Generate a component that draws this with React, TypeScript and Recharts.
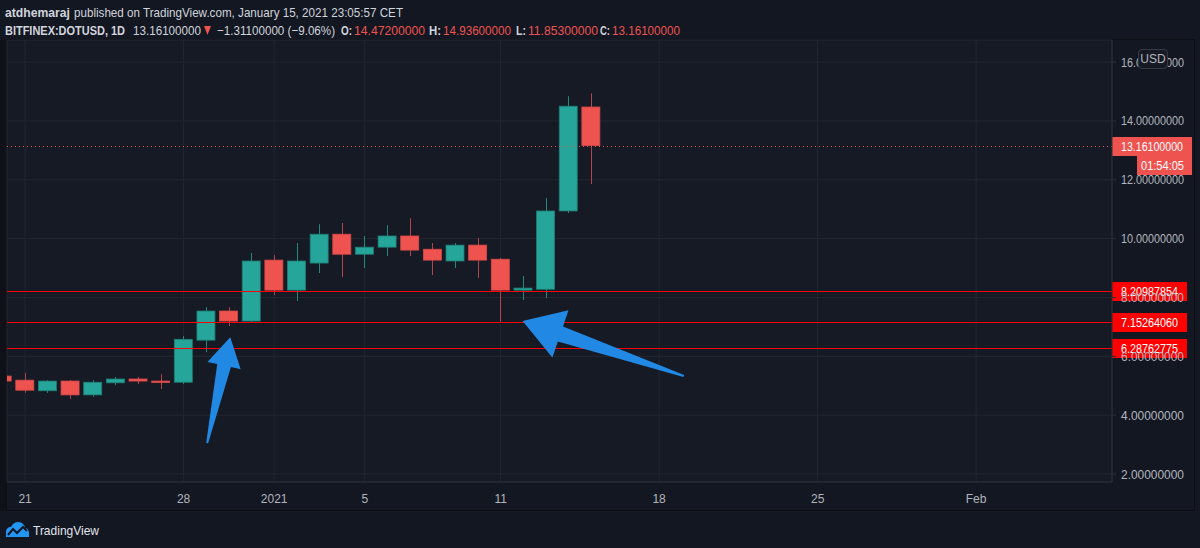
import React from 'react';
import { ComposedChart, Bar, XAxis, YAxis, CartesianGrid, ReferenceLine } from 'recharts';

// daily candles, BITFINEX:DOTUSD, Dec 20 2020 .. Jan 15 2021
const dayLabels = ['Dec 20', 'Dec 21', 'Dec 22', 'Dec 23', 'Dec 24', 'Dec 25', 'Dec 26', 'Dec 27', 'Dec 28', 'Dec 29', 'Dec 30', 'Dec 31', 'Jan 1', 'Jan 2', 'Jan 3', 'Jan 4', 'Jan 5', 'Jan 6', 'Jan 7', 'Jan 8', 'Jan 9', 'Jan 10', 'Jan 11', 'Jan 12', 'Jan 13', 'Jan 14', 'Jan 15'];
const opens = [5.33, 5.19, 4.83, 5.16, 4.69, 5.10, 5.23, 5.16, 5.12, 6.55, 7.54, 7.20, 9.27, 8.25, 9.17, 10.15, 9.47, 9.71, 10.09, 9.64, 9.24, 9.78, 9.30, 8.25, 8.28, 10.94, 14.472];
const highs = [5.38, 5.43, 5.19, 5.19, 5.19, 5.30, 5.30, 5.39, 6.69, 7.67, 7.67, 9.51, 9.44, 9.85, 10.49, 10.53, 10.09, 10.46, 10.70, 9.85, 9.85, 10.02, 9.34, 8.73, 11.38, 14.84, 14.936];
const lows = [5.12, 4.76, 4.76, 4.55, 4.63, 5.02, 5.06, 4.89, 5.06, 6.14, 7.03, 7.16, 8.08, 7.88, 8.83, 8.69, 9.00, 9.41, 9.41, 8.76, 9.00, 8.66, 7.15, 7.91, 7.98, 10.87, 11.853];
const closes = [5.16, 4.85, 5.16, 4.69, 5.12, 5.23, 5.16, 5.15, 6.58, 7.54, 7.20, 9.24, 8.25, 9.24, 10.15, 9.47, 9.71, 10.09, 9.61, 9.27, 9.78, 9.27, 8.25, 8.32, 10.94, 14.50, 13.161];

// x axis: day offset from Dec 21
const tickDays = [0, 7, 11, 15, 21, 28, 35, 42];
const tickNames = ['21', '28', '2021', '5', '11', '18', '25', 'Feb'];
const priceTicks = [2, 4, 6, 8, 10, 12, 14, 16];

const lastPrice = 13.161;
const countdown = '01:54:05';
const levels = [8.20987854, 7.1526406, 6.28762775];

// drawn arrows: [tail, tip] in (day, price)
const arrowUp = [{ x: 8.04, y: 3.05 }, { x: 9.06, y: 6.65 }];
const arrowLeft = [{ x: 29.09, y: 5.33 }, { x: 21.97, y: 7.2 }];

const UP = '#26a69a';
const DOWN = '#ef5350';
const FONT = "'Liberation Sans', Arial, sans-serif";
const TXT = '#d1d4dc';

// header pieces: text, x, width, bold, red
const headerLine1 = [
  ['atdhemaraj', 5, 65, true, false],
  ['published on TradingView.com, January 15, 2021 23:05:57 CET', 74, 329, false, false],
] as const;
const headerLine2 = [
  ['BITFINEX:DOTUSD, 1D', 5, 120, true, false],
  ['13.16100000', 133, 68, false, false],
  ['−1.31100000 (−9.06%)', 217, 118, false, false],
  ['O:', 341, 11, true, false],
  ['14.47200000', 354, 71, false, true],
  ['H:', 429, 12, true, false],
  ['14.93600000', 443, 68, false, true],
  ['L:', 516, 10, true, false],
  ['11.85300000', 528, 70, false, true],
  ['C:', 600, 10, true, false],
  ['13.16100000', 612, 68, false, true],
] as const;

const data = dayLabels.map((d, i) => ({
  day: i - 1,
  name: d,
  range: [lows[i], highs[i]],
  open: opens[i],
  high: highs[i],
  low: lows[i],
  close: closes[i],
}));

const Candle = (props: any) => {
  const { x, y, width, height } = props;
  const p = props.payload || props;
  const up = p.close >= p.open;
  const top = Math.min(y, y + height);
  const h = Math.abs(height);
  const py = (v: number) => top + ((p.high - v) / (p.high - p.low)) * h;
  const cx = Math.round(x + width / 2) + 0.5;
  const bTop = py(Math.max(p.open, p.close));
  const bBot = py(Math.min(p.open, p.close));
  return (
    <g>
      <line x1={cx} x2={cx} y1={top} y2={top + h} stroke={up ? '#22887f' : '#b0464c'} strokeWidth={1} />
      <rect x={x} y={bTop} width={width} height={Math.max(bBot - bTop, 1.5)} fill={up ? UP : DOWN} stroke={up ? '#1f7d74' : '#d84a48'} strokeWidth={0.8} />
    </g>
  );
};

const PriceTag = (props: any) => {
  const { viewBox, text, bg, w, tl, sub } = props;
  if (!viewBox) return null;
  const x = viewBox.x + viewBox.width;
  const y = Math.round(viewBox.y);
  return (
    <g>
      <rect x={x} y={y - 9} width={w} height={19} fill={bg} />
      <text x={x + 9} y={y + 0.5} dy="0.36em" fill="#ffffff" fontSize={13} fontFamily={FONT} textLength={tl} lengthAdjust="spacingAndGlyphs">{text}</text>
      {sub ? (
        <g>
          <rect x={x + 25} y={y + 10} width={w - 25} height={19} fill={bg} />
          <text x={x + 29} y={y + 19.5} dy="0.36em" fill="#ffffff" fontSize={13} fontFamily={FONT} textLength={43} lengthAdjust="spacingAndGlyphs">{sub}</text>
        </g>
      ) : null}
    </g>
  );
};

const crispLine = (props: any) => {
  const yy = Math.round(props.y1) + 0.5;
  return <line x1={props.x1} x2={props.x2} y1={yy} y2={yy} stroke={props.stroke} strokeWidth={1} strokeDasharray={props.strokeDasharray} />;
};

const YTick = (props: any) => {
  const { x, y, payload } = props;
  return (
    <text x={x} y={y} dy="0.36em" fill="#b2b5be" fontSize={12.5} fontFamily={FONT} textLength={63} lengthAdjust="spacingAndGlyphs">
      {Number(payload.value).toFixed(8)}
    </text>
  );
};

const arrowShape = (headLen: number, headHalf: number, shaftHalf: number) => (props: any) => {
  const { x1, y1, x2, y2 } = props;
  if ([x1, y1, x2, y2].some((v) => v == null || isNaN(v))) return <g />;
  const dx = x2 - x1;
  const dy = y2 - y1;
  const len = Math.hypot(dx, dy) || 1;
  const ux = dx / len;
  const uy = dy / len;
  const px = -uy;
  const py = ux;
  const bx = x2 - ux * headLen;
  const by = y2 - uy * headLen;
  const pts = [
    [x1 + px * 1, y1 + py * 1],
    [bx + px * shaftHalf, by + py * shaftHalf],
    [bx + px * headHalf, by + py * headHalf],
    [x2, y2],
    [bx - px * headHalf, by - py * headHalf],
    [bx - px * shaftHalf, by - py * shaftHalf],
    [x1 - px * 1, y1 - py * 1],
  ];
  return <polygon points={pts.map((q) => q.join(',')).join(' ')} fill="#2188e3" />;
};

const headerText = (row: readonly (readonly [string, number, number, boolean, boolean])[], y: number) =>
  row.map(([t, x, w, bold, red]) => (
    <text key={t + x} x={x} y={y} fill={red ? DOWN : TXT} fontSize={13} fontWeight={bold ? 'bold' : 'normal'} fontFamily={FONT} textLength={w} lengthAdjust="spacingAndGlyphs">
      {t}
    </text>
  ));

export default function App() {
  return (
    <div style={{ position: 'absolute', left: 0, top: 0, width: 1200, height: 548, background: '#131722', overflow: 'hidden', fontFamily: FONT }}>
      <svg style={{ position: 'absolute', left: 0, top: 0 }} width={1200} height={40}>
        {headerText(headerLine1, 16.5)}
        {headerText(headerLine2, 34.5)}
        <polygon points="204,26 211,26 207.5,35" fill={DOWN} />
      </svg>
      <div style={{ position: 'absolute', left: 0, top: 40, width: 7, height: 471, background: '#0f1118' }} />
      <div style={{ position: 'absolute', left: 6, top: 39, width: 1189, height: 472, border: '1px solid #0c0e14', boxSizing: 'border-box' }} />
      <div style={{ position: 'absolute', left: 0, top: 0 }}>
        <ComposedChart width={1200} height={548} data={data} margin={{ top: 40, right: 5, bottom: 37, left: 7 }}>
          <CartesianGrid stroke="#232733" fill="#161a25" />
          <XAxis
            type="number"
            dataKey="day"
            domain={[-0.8, 48]}
            allowDataOverflow
            ticks={tickDays}
            interval={0}
            tickFormatter={(v: number) => tickNames[tickDays.indexOf(v)] ?? ''}
            height={29}
            tickSize={6}
            tickMargin={6}
            tickLine={false}
            axisLine={{ stroke: '#2a2e39' }}
            tick={{ fill: '#b2b5be', fontSize: 12, fontFamily: FONT }}
          />
          <YAxis
            orientation="right"
            domain={[1.73, 16.75]}
            allowDataOverflow
            ticks={priceTicks}
            interval={0}
            width={83}
            tickSize={4}
            tickMargin={5}
            tickLine={{ stroke: '#2a2e39' }}
            axisLine={{ stroke: '#2a2e39' }}
            tick={<YTick />}
          />
          <Bar dataKey="range" barSize={18} shape={<Candle />} isAnimationActive={false} />
          <ReferenceLine
            y={lastPrice}
            stroke={DOWN}
            strokeDasharray="1 3"
            shape={crispLine}
            label={<PriceTag text={lastPrice.toFixed(8)} sub={countdown} bg={DOWN} w={80} tl={62} />}
          />
          {levels.map((v) => (
            <ReferenceLine key={v} y={v} stroke="#ff0000" shape={crispLine} label={<PriceTag text={v.toFixed(8)} bg="#ff0000" w={75} tl={57} />} />
          ))}
          <ReferenceLine segment={arrowUp} shape={arrowShape(29, 17, 7)} />
          <ReferenceLine segment={arrowLeft} shape={arrowShape(40, 25, 8)} />
        </ComposedChart>
      </div>
      <div style={{ position: 'absolute', left: 1138, top: 49, width: 30, height: 20, border: '1px solid #363a45', borderRadius: 4, background: '#161a25', boxSizing: 'border-box', color: '#b2b5be', fontSize: 12, textAlign: 'center', lineHeight: '18px' }}>USD</div>
      <svg style={{ position: 'absolute', left: 0, top: 515 }} width={120} height={30}>
        <path d="M6 22 L6 17 C6 14 8 12 11 12 C12 9 15 7 18 7 C22 7 25 10 25 13 C28 13 29 16 29 18 L29 22 Z" fill="#2196f3" />
        <path d="M8 20 L13 14 L17 18 L23 12 L27 16" stroke="#131722" strokeWidth={2} fill="none" />
        <text x={33} y={19.5} fill="#e0e3eb" fontSize={13.5} fontFamily={FONT} textLength={66} lengthAdjust="spacingAndGlyphs">TradingView</text>
      </svg>
    </div>
  );
}
